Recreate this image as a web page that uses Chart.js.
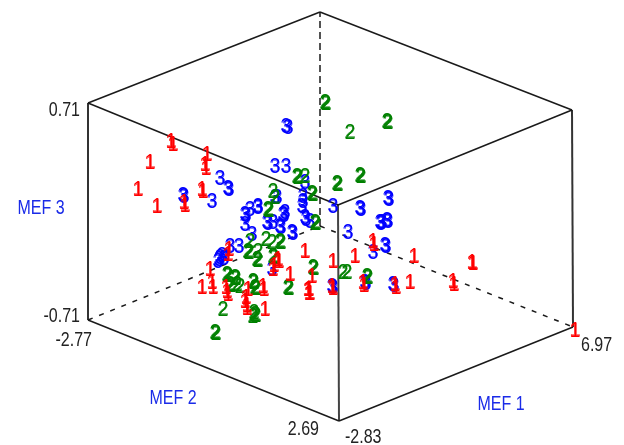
<!DOCTYPE html>
<html><head><meta charset="utf-8">
<script src="https://cdn.jsdelivr.net/npm/chart.js@4"></script>
<style>html,body{margin:0;padding:0;background:#fff;overflow:hidden}canvas{display:block;filter:blur(.4px)}</style>
</head><body><canvas id="c" width="624" height="445"></canvas>
<script>
// Projected coordinates of the three groups
const group1X=[171,173,150,207,206,205,138,157,202,203,184,185,373,374,305,333,355,414,472,473,453,454,410,395,396,363,364,332,333,312,309,310,278,279,273,274,228,229,210,212,213,202,227,228,226,248,245,246,247,247,263,264,265,290,308,309,575];
const group1Y=[142,145,163,155,169,165,190,207,190,192,203,206,242,245,252,262,257,257,263,264,282,285,283,285,288,283,286,287,289,277,290,294,260,262,270,266,255,250,270,283,288,288,292,295,288,290,302,298,306,309,287,290,310,275,290,294,331];
const group2X=[325,326,350,387,388,360,361,337,338,297,298,305,312,313,315,316,273,280,281,272,275,268,269,266,250,248,249,258,257,258,273,274,227,228,235,236,230,231,237,253,254,255,256,288,289,313,314,343,347,367,368,223,215,216,255,256,254,253,240];
const group2Y=[103,104,133,122,123,176,177,184,185,177,178,177,194,195,223,224,192,242,243,243,198,210,211,240,242,252,253,252,260,261,257,258,275,276,278,279,285,286,285,282,283,288,289,288,289,268,269,273,273,277,278,310,333,334,315,316,313,317,287];
const group3X=[286,288,275,286,220,228,229,183,184,212,245,246,258,283,284,275,303,306,305,303,302,305,310,333,360,361,388,389,380,381,387,388,348,385,386,292,293,277,273,258,250,245,285,267,268,280,281,252,230,239,220,222,218,219,224,365,366,332,333,393,394,373,272,382];
const group3Y=[127,128,167,167,179,189,190,196,197,202,215,216,208,215,216,198,202,220,183,197,207,218,222,207,209,210,199,200,223,224,221,222,233,246,247,233,234,198,223,207,210,225,213,223,224,227,228,235,247,247,258,256,262,260,259,283,284,287,288,285,286,253,270,223];
// Corners of the box in the projected picture
const cornerTopLeft=[88,103], cornerTopBack=[320,12], cornerTopRight=[572,110], cornerTopFront=[338,205];
const cornerBottomLeft=[88,320], cornerBottomBack=[320,226], cornerBottomRight=[573,327], cornerBottomFront=[339,421];
const tickLabels=["0.71","-0.71","-2.77","2.69","-2.83","6.97"];
const tickAnchorsX=[80,80,92,319,345,581];
const tickAnchorsY=[110,316,340,429,437,345];
const tickAligns=["right","right","right","right","left","left"];
const axisTitles=["MEF 3","MEF 2","MEF 1"];
const titleAnchorsX=[41,173,501];
const titleAnchorsY=[208,398,404];

const pts=(xs,ys)=>xs.map((x,i)=>({x,y:ys[i]}));
const edge=(a,b,dash,w,col)=>({type:'line',data:[{x:a[0],y:a[1]},{x:b[0],y:b[1]}],borderColor:col||'#1a1a1a',borderWidth:w||1.5,borderDash:dash||[],pointRadius:0,fill:false,tension:0,order:5});
const digit=(xs,ys,col,txt,order)=>({type:'scatter',data:pts(xs,ys),digit:txt,digitColor:col,pointRadius:0,backgroundColor:col,borderColor:col,order});
function stretched(c,t,x,y,sy){c.save();c.translate(x,y);c.scale(1,sy);c.fillText(t,0,0);c.restore();}
const digitsPlugin={id:'digits',afterDatasetsDraw(chart){
  const c=chart.ctx; c.save();
  c.textAlign='center'; c.textBaseline='middle'; c.font='19px "Liberation Sans"';
  ['3','2','1'].forEach(t=>{
    const i=chart.data.datasets.findIndex(d=>d.digit===t);
    c.fillStyle=chart.data.datasets[i].digitColor;
    c.strokeStyle=c.fillStyle; c.lineWidth=.5;
    chart.getDatasetMeta(i).data.forEach(el=>{stretched(c,t,el.x,el.y,1.12);c.strokeText(t,el.x,el.y);});
  });
  const sx=chart.scales.x, sy=chart.scales.y;
  c.font='16px "Liberation Sans"'; c.fillStyle='#222';
  tickLabels.forEach((t,i)=>{c.textAlign=tickAligns[i];stretched(c,t,sx.getPixelForValue(tickAnchorsX[i]),sy.getPixelForValue(tickAnchorsY[i]),1.25);});
  c.fillStyle='#1a2be8'; c.textAlign='center';
  axisTitles.forEach((t,i)=>stretched(c,t,sx.getPixelForValue(titleAnchorsX[i]),sy.getPixelForValue(titleAnchorsY[i]),1.25));
  c.restore();
}};
new Chart(document.getElementById('c'),{
  data:{datasets:[
    edge(cornerBottomLeft,cornerBottomBack,[5,7],1.5),
    edge(cornerBottomBack,cornerBottomRight,[5,7],1.5),
    edge(cornerBottomBack,cornerTopBack,[7,4],1.5),
    edge(cornerTopLeft,cornerTopBack),
    edge(cornerTopBack,cornerTopRight),
    edge(cornerTopRight,cornerTopFront),
    edge(cornerTopFront,cornerTopLeft),
    edge(cornerBottomLeft,cornerBottomFront),
    edge(cornerBottomFront,cornerBottomRight),
    edge(cornerTopLeft,cornerBottomLeft,null,2,'#333'),
    edge(cornerTopRight,cornerBottomRight,null,2,'#333'),
    edge(cornerTopFront,cornerBottomFront,null,2,'#444'),
    digit(group1X,group1Y,'#ff0000','1',1),
    digit(group2X,group2Y,'#008000','2',2),
    digit(group3X,group3Y,'#0000ff','3',3)
  ]},
  options:{responsive:false,animation:false,layout:{padding:0},
    plugins:{legend:{display:false},tooltip:{enabled:false},title:{display:false}},
    scales:{x:{type:'linear',min:0,max:624,display:false},y:{type:'linear',min:0,max:445,reverse:true,display:false}}},
  plugins:[digitsPlugin]
});
</script></body></html>
